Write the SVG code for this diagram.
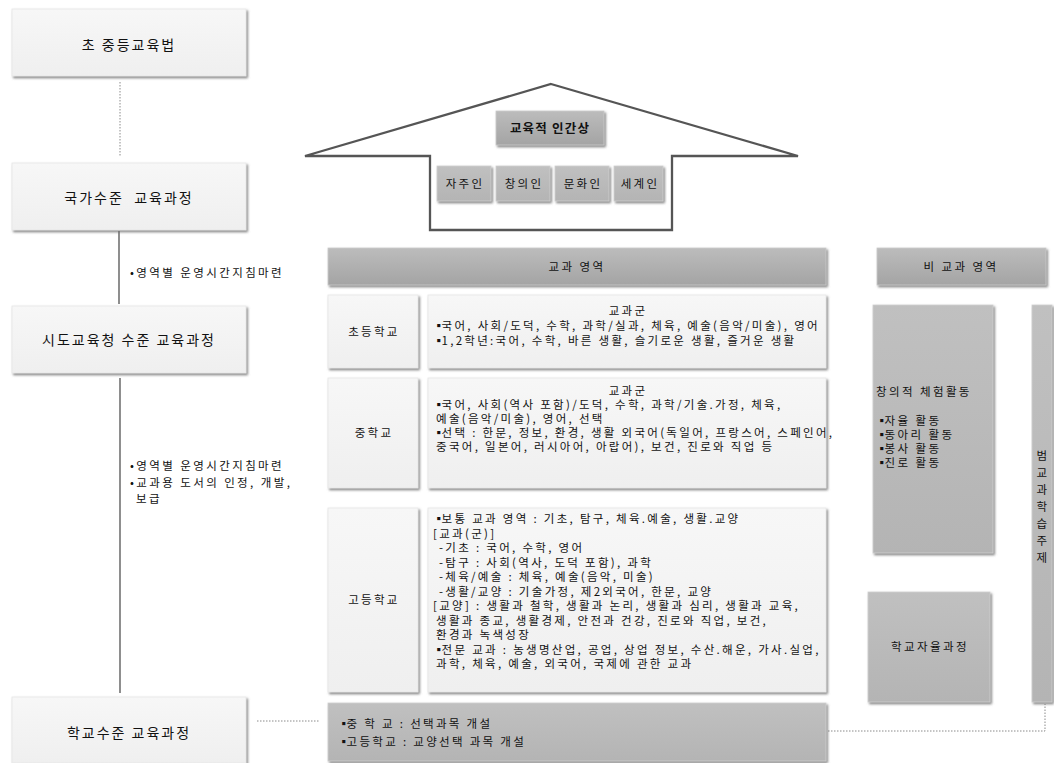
<svg xmlns="http://www.w3.org/2000/svg" width="1058" height="763" viewBox="0 0 1058 763">
<defs>
<filter id="bev" x="-5%" y="-5%" width="112%" height="125%">
<feDropShadow dx="1.5" dy="1.8" stdDeviation="0.8" flood-color="#6f6f6f" flood-opacity="0.85"/>
</filter>
<linearGradient id="gdark" x1="0" y1="0" x2="0" y2="1">
<stop offset="0" stop-color="#bcbcbc"/>
<stop offset="1" stop-color="#a4a4a4"/>
</linearGradient>
<linearGradient id="gmid" x1="0" y1="0" x2="0" y2="1">
<stop offset="0" stop-color="#c0c0c0"/>
<stop offset="1" stop-color="#b4b4b4"/>
</linearGradient>
<linearGradient id="glight" x1="0" y1="0" x2="0" y2="1">
<stop offset="0" stop-color="#f7f7f7"/>
<stop offset="1" stop-color="#efefef"/>
</linearGradient>
</defs>
<style>
text{font-family:"Noto Sans CJK KR","Noto Sans",sans-serif;fill:#111}
.lt{fill:url(#glight);stroke:#e6e6e6;stroke-width:0.8;filter:url(#bev)}
.dk{fill:url(#gdark);stroke:#cacaca;stroke-width:0.8;filter:url(#bev)}
.md{fill:url(#gmid);stroke:#cfcfcf;stroke-width:0.8;filter:url(#bev)}
.big{font-size:14px;letter-spacing:2px}
.t{font-size:11.5px;letter-spacing:2.3px}
.s{font-size:11.5px;letter-spacing:2.4px}
.c{text-anchor:middle}
.b{letter-spacing:-3px}
.conn{fill:none;stroke:#444;stroke-width:1.2}
.dot{fill:none;stroke:#8a8a8a;stroke-width:1;stroke-dasharray:1.5 1.5}
</style>

<g id="connectors">
<line class="dot" x1="120" y1="82" x2="120" y2="156"/>
<line class="conn" x1="119" y1="231" x2="119" y2="304"/>
<line class="conn" x1="120" y1="378" x2="120" y2="693"/>
<line class="dot" x1="257" y1="721" x2="320" y2="721"/>
<path class="dot" d="M828,731 H1045 V704" stroke="#555"/>
</g>

<g id="notes">
<text class="s" x="130" y="277">•영역별 운영시간지침마련</text>
<text class="s" x="130" y="470">•영역별 운영시간지침마련</text>
<text class="s" x="130" y="487">•교과용 도서의 인정, 개발,</text>
<text class="s" x="136" y="503">보급</text>
</g>

<g id="n-law">
<rect class="lt" x="12" y="9" width="234" height="67"/>
<text class="big c" x="129" y="50">초 중등교육법</text>
</g>
<g id="n-national">
<rect class="lt" x="12" y="163" width="234" height="67"/>
<text class="big c" x="129" y="203" xml:space="preserve">국가수준  교육과정</text>
</g>
<g id="n-province">
<rect class="lt" x="12" y="306" width="234" height="67"/>
<text class="big c" x="129" y="345">시도교육청 수준 교육과정</text>
</g>
<g id="n-school">
<rect class="lt" x="12" y="697" width="234" height="66"/>
<text class="big c" x="129" y="738">학교수준 교육과정</text>
</g>

<g id="n-house">
<path d="M551,84 L798,156 H672 V230 H430 V156 H305 Z" fill="#fff" stroke="#555" stroke-width="2.3" stroke-linejoin="miter"/>
</g>
<g id="n-ideal">
<rect class="dk" x="496" y="111" width="108" height="34"/>
<text class="c" x="550" y="133" style="font-size:12.5px;font-weight:bold;letter-spacing:1.2px">교육적 인간상</text>
</g>
<g id="n-jaju">
<rect class="md" x="437" y="166" width="54" height="35"/>
<text class="t c" x="465" y="188">자주인</text>
</g>
<g id="n-changui">
<rect class="md" x="496" y="166" width="54" height="35"/>
<text class="t c" x="524" y="188">창의인</text>
</g>
<g id="n-munhwa">
<rect class="md" x="555" y="166" width="54" height="35"/>
<text class="t c" x="583" y="188">문화인</text>
</g>
<g id="n-segye">
<rect class="md" x="614" y="166" width="49" height="35"/>
<text class="t c" x="640" y="188">세계인</text>
</g>

<g id="n-subject-header">
<rect class="dk" x="328" y="248" width="498" height="37"/>
<text class="s c" x="577" y="271">교과 영역</text>
</g>
<g id="n-nonsubject-header">
<rect class="dk" x="877" y="248" width="169" height="37"/>
<text class="s c" x="961" y="271">비 교과 영역</text>
</g>

<g id="n-elem">
<rect class="lt" x="328" y="295" width="90" height="73"/>
<text class="t c" x="374" y="336">초등학교</text>
<rect class="lt" x="428" y="295" width="398" height="73"/>
<text class="t c" x="628" y="315">교과군</text>
<text class="t" x="433" y="330"><tspan class="b">▪</tspan>국어, 사회/도덕, 수학, 과학/실과, 체육, 예술(음악/미술), 영어</text>
<text class="t" x="433" y="345"><tspan class="b">▪</tspan>1,2학년:국어, 수학, 바른 생활, 슬기로운 생활, 즐거운 생활</text>
</g>

<g id="n-middle">
<rect class="lt" x="328" y="378" width="90" height="110"/>
<text class="t c" x="374" y="437">중학교</text>
<rect class="lt" x="428" y="378" width="398" height="110"/>
<text class="t c" x="628" y="395">교과군</text>
<text class="t" x="433" y="409"><tspan class="b">▪</tspan>국어, 사회(역사 포함)/도덕, 수학, 과학/기술.가정, 체육,</text>
<text class="t" x="436" y="423">예술(음악/미술), 영어, 선택</text>
<text class="t" x="433" y="437"><tspan class="b">▪</tspan>선택 : 한문, 정보, 환경, 생활 외국어(독일어, 프랑스어, 스페인어,</text>
<text class="t" x="436" y="451">중국어, 일본어, 러시아어, 아랍어), 보건, 진로와 직업 등</text>
</g>

<g id="n-high">
<rect class="lt" x="328" y="508" width="90" height="184"/>
<text class="t c" x="374" y="604">고등학교</text>
<rect class="lt" x="428" y="508" width="398" height="184"/>
<text class="t" x="433" y="523"><tspan class="b">▪</tspan>보통 교과 영역 : 기초, 탐구, 체육.예술, 생활.교양</text>
<text class="t" x="433" y="538">[교과(군)]</text>
<text class="t" x="439" y="552">-기초 : 국어, 수학, 영어</text>
<text class="t" x="439" y="567">-탐구 : 사회(역사, 도덕 포함), 과학</text>
<text class="t" x="439" y="581">-체육/예술 : 체육, 예술(음악, 미술)</text>
<text class="t" x="439" y="596">-생활/교양 : 기술가정, 제2외국어, 한문, 교양</text>
<text class="t" x="433" y="610">[교양] : 생활과 철학, 생활과 논리, 생활과 심리, 생활과 교육,</text>
<text class="t" x="436" y="625">생활과 종교, 생활경제, 안전과 건강, 진로와 직업, 보건,</text>
<text class="t" x="436" y="639">환경과 녹색성장</text>
<text class="t" x="433" y="654"><tspan class="b">▪</tspan>전문 교과 : 농생명산업, 공업, 상업 정보, 수산.해운, 가사.실업,</text>
<text class="t" x="436" y="668">과학, 체육, 예술, 외국어, 국제에 관한 교과</text>
</g>

<g id="n-school-open">
<rect class="md" x="328" y="703" width="498" height="58"/>
<text class="t" x="338" y="728"><tspan class="b">▪</tspan>중 학 교 : 선택과목 개설</text>
<text class="t" x="338" y="746"><tspan class="b">▪</tspan>고등학교 : 교양선택 과목 개설</text>
</g>

<g id="n-creative">
<rect class="md" x="873" y="305" width="120" height="248"/>
<text class="s" x="876" y="396">창의적 체험활동</text>
<text class="s" x="876" y="425"><tspan class="b">▪</tspan>자율 활동</text>
<text class="s" x="876" y="439"><tspan class="b">▪</tspan>동아리 활동</text>
<text class="s" x="876" y="453"><tspan class="b">▪</tspan>봉사 활동</text>
<text class="s" x="876" y="467"><tspan class="b">▪</tspan>진로 활동</text>
</g>
<g id="n-autonomy">
<rect class="md" x="868" y="592" width="122" height="110"/>
<text class="s c" x="930" y="651">학교자율과정</text>
</g>
<g id="n-cross">
<rect class="md" x="1032" y="305" width="20" height="397"/>
<text class="s c" x="1043" y="460">범</text>
<text class="s c" x="1043" y="477">교</text>
<text class="s c" x="1043" y="494">과</text>
<text class="s c" x="1043" y="511">학</text>
<text class="s c" x="1043" y="528">습</text>
<text class="s c" x="1043" y="545">주</text>
<text class="s c" x="1043" y="562">제</text>
</g>
</svg>
